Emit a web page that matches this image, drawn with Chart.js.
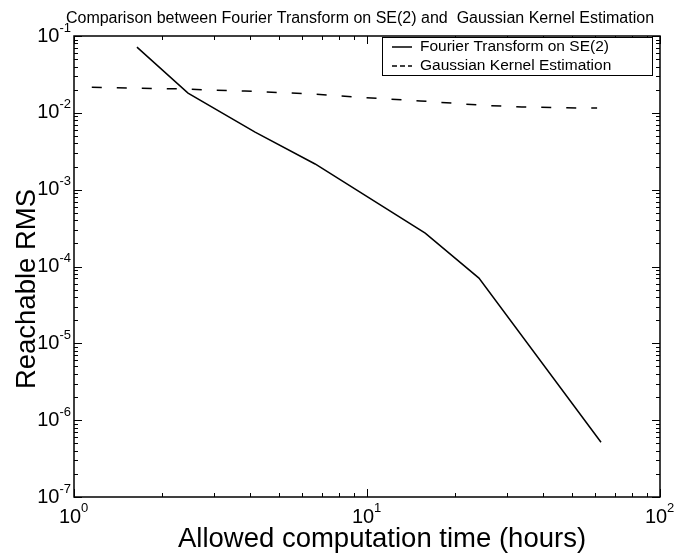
<!DOCTYPE html>
<html>
<head>
<meta charset="utf-8">
<script src="https://cdn.jsdelivr.net/npm/chart.js@4/dist/chart.umd.min.js"></script>
<style>
  html, body { margin: 0; padding: 0; background: #fff; }
  #box { width: 675px; height: 556px; }
</style>
</head>
<body>
<div id="box"><canvas id="myC"></canvas></div>
<script>
// values
const fourierTime = [1.64, 2.45, 4.15, 6.65, 15.8, 24.1, 62.9];
const fourierRms = [0.0717, 0.0181, 0.00562, 0.00216, 2.72e-4, 7.06e-5, 5.17e-7];
const gaussTime = [1.15, 2.25, 3.83, 6.54, 9.46, 15.2, 24.3, 33.8, 52.5, 61.0];
const gaussRms = [0.0215, 0.0205, 0.0192, 0.0176, 0.0159, 0.0143, 0.0126, 0.0119, 0.01155, 0.01155];
const xExponents = [0, 1, 2];
const yExponents = [-7, -6, -5, -4, -3, -2, -1];
const titleText = 'Comparison between Fourier Transform on SE(2) and  Gaussian Kernel Estimation';
const xTitle = 'Allowed computation time (hours)';
const yTitle = 'Reachable RMS';

const FONT = '"Liberation Sans", Arial, Helvetica, sans-serif';

function toPoints(xs, ys) {
  return xs.map((x, i) => ({ x: x, y: ys[i] }));
}

// MATLAB style frame, inward ticks, power labels, titles and legend
const matlabAxes = {
  id: 'matlabAxes',
  afterDatasetsDraw(chart) {
    const { ctx, chartArea: a, scales } = chart;
    const xs = scales.x, ys = scales.y;
    ctx.save();
    ctx.strokeStyle = '#000';
    ctx.lineWidth = 1.5;
    ctx.strokeRect(a.left, a.top, a.right - a.left, a.bottom - a.top);

    ctx.lineWidth = 1;
    ctx.beginPath();
    for (let e = xExponents[0]; e <= xExponents[xExponents.length - 1]; e++) {
      for (let m = 1; m < 10; m++) {
        const v = m * Math.pow(10, e);
        if (v > xs.max) break;
        const px = Math.round(xs.getPixelForValue(v)) + 0.5;
        const len = m === 1 ? 8 : 4;
        ctx.moveTo(px, a.bottom); ctx.lineTo(px, a.bottom - len);
        ctx.moveTo(px, a.top); ctx.lineTo(px, a.top + len);
      }
    }
    for (let e = yExponents[0]; e <= yExponents[yExponents.length - 1]; e++) {
      for (let m = 1; m < 10; m++) {
        const v = m * Math.pow(10, e);
        if (v > ys.max * 1.0001) break;
        const py = Math.round(ys.getPixelForValue(v)) + 0.5;
        const len = m === 1 ? 8 : 4;
        ctx.moveTo(a.left, py); ctx.lineTo(a.left + len, py);
        ctx.moveTo(a.right, py); ctx.lineTo(a.right - len, py);
      }
    }
    ctx.stroke();

    ctx.fillStyle = '#000';
    // y tick labels
    yExponents.forEach(e => {
      const py = ys.getPixelForValue(Math.pow(10, e));
      ctx.font = '13px ' + FONT;
      const sup = String(e);
      const supW = ctx.measureText(sup).width;
      ctx.textAlign = 'left';
      ctx.textBaseline = 'middle';
      const supX = a.left - 3 - supW;
      ctx.fillText(sup, supX, py - 8);
      ctx.font = '20px ' + FONT;
      ctx.textAlign = 'right';
      ctx.fillText('10', supX, py);
    });
    // x tick labels
    xExponents.forEach(e => {
      const px = xs.getPixelForValue(Math.pow(10, e));
      ctx.font = '20px ' + FONT;
      ctx.textAlign = 'center';
      ctx.textBaseline = 'middle';
      ctx.fillText('10', px - 4, a.bottom + 20);
      const w = ctx.measureText('10').width;
      ctx.font = '13px ' + FONT;
      ctx.textAlign = 'left';
      ctx.fillText(String(e), px - 4 + w / 2, a.bottom + 11);
    });

    // titles
    ctx.font = '16px ' + FONT;
    ctx.textAlign = 'center';
    ctx.textBaseline = 'middle';
    ctx.fillText(titleText, 360, 19);
    ctx.font = '27.5px ' + FONT;
    ctx.fillText(xTitle, 382, 539);
    ctx.save();
    ctx.translate(27, 289);
    ctx.rotate(-Math.PI / 2);
    ctx.fillText(yTitle, 0, 0);
    ctx.restore();

    // legend box inside the axes
    const lx = 382, ly = a.top + 1, lw = 270, lh = 38;
    ctx.fillStyle = '#fff';
    ctx.fillRect(lx, ly, lw, lh);
    ctx.lineWidth = 1;
    ctx.strokeRect(lx + 0.5, ly + 0.5, lw, lh);
    ctx.font = '15.5px ' + FONT;
    ctx.textAlign = 'left';
    chart.data.datasets.forEach((ds, i) => {
      const yy = ly + 10 + i * 19;
      ctx.strokeStyle = ds.borderColor;
      ctx.lineWidth = ds.borderWidth;
      ctx.setLineDash(ds.borderDash ? [5, 3] : []);
      ctx.beginPath();
      ctx.moveTo(lx + 10, yy); ctx.lineTo(lx + 30, yy);
      ctx.stroke();
      ctx.setLineDash([]);
      ctx.fillStyle = '#000';
      ctx.fillText(ds.label, lx + 38, yy);
    });
    ctx.restore();
  }
};

const ctx = document.querySelector('#myC').getContext('2d');

const chart = new Chart(ctx, {
  type: 'line',
  data: {
    datasets: [{
      label: 'Fourier Transform on SE(2)',
      data: toPoints(fourierTime, fourierRms),
      borderColor: '#000',
      borderWidth: 1.5,
      pointRadius: 0,
      fill: false,
      tension: 0,
    }, {
      label: 'Gaussian Kernel Estimation',
      data: toPoints(gaussTime, gaussRms),
      borderColor: '#000',
      borderWidth: 1.5,
      borderDash: [10, 15],
      pointRadius: 0,
      fill: false,
      tension: 0,
    }]
  },
  options: {
    responsive: true,
    maintainAspectRatio: false,
    animation: false,
    layout: {
      padding: { left: 74, top: 36, right: 15, bottom: 59 }
    },
    scales: {
      x: {
        type: 'logarithmic',
        min: 1,
        max: 100,
        ticks: { display: false },
        grid: { display: false, drawTicks: false },
        border: { display: false }
      },
      y: {
        type: 'logarithmic',
        min: 1e-7,
        max: 1e-1,
        ticks: { display: false },
        grid: { display: false, drawTicks: false },
        border: { display: false }
      }
    },
    plugins: {
      legend: { display: false },
      tooltip: { enabled: false }
    }
  },
  plugins: [matlabAxes]
});
</script>
</body>
</html>
